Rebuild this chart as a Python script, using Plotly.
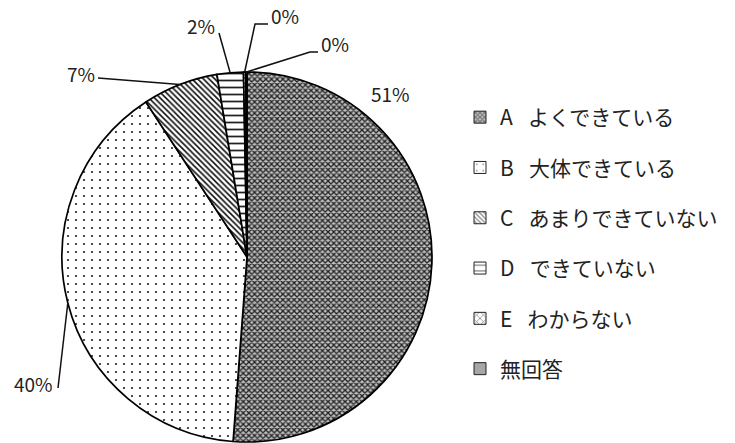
import math
import plotly.graph_objects as go

# ---- data ----
categories = ["A\u2002 よくできている", "B\u2002 大体できている", "C\u2002 あまりできていない",
              "D\u2002 できていない", "E\u2002 わからない", "無回答"]
values = [51.2, 39.6, 6.6, 2.3, 0.2, 0.1]

# ---- styles ----
patterns = [
    dict(shape="x", size=4, solidity=0.55, fgcolor="#222222", bgcolor="#c0c0c0"),
    dict(shape=".", size=8, solidity=0.06, fgcolor="#222222", bgcolor="white"),
    dict(shape="\\", size=4, solidity=0.4, fgcolor="#111111", bgcolor="white"),
    dict(shape="-", size=7, solidity=0.25, fgcolor="#222222", bgcolor="white"),
    dict(shape="x", size=6, solidity=0.3, fgcolor="#111111", bgcolor="white"),
    dict(shape="", fgcolor="#a6a6a6", bgcolor="#a6a6a6"),
]
slice_colors = ["#666666", "white", "white", "white", "#555555", "#a6a6a6"]

W, H = 735, 443
cx, cy, r = 247, 257, 185   # pie geometry (pixels, y from top)
FONT = "Noto Sans CJK JP"

fig = go.Figure()
fig.add_trace(go.Pie(
    labels=categories, values=values, sort=False, direction="clockwise",
    rotation=0, textinfo="none", showlegend=False, hoverinfo="label+percent",
    marker=dict(colors=slice_colors, line=dict(color="black", width=1.7),
                pattern=dict(shape=[p["shape"] for p in patterns],
                             size=[p.get("size", 8) for p in patterns],
                             solidity=[p.get("solidity", 0.3) for p in patterns],
                             fgcolor=[p["fgcolor"] for p in patterns],
                             bgcolor=[p["bgcolor"] for p in patterns])),
    domain=dict(x=[(cx - r) / W, (cx + r) / W], y=[(H - cy - r) / H, (H - cy + r) / H]),
))

# legend entries (dummy bars carry the pattern swatches)
for i, (name, p) in enumerate(zip(categories, patterns)):
    fig.add_trace(go.Bar(
        x=[None], y=[None], name=name, legendgroup=f"g{i}",
        marker=dict(color=slice_colors[i], line=dict(color="#222", width=1),
                    pattern=dict(shape=p["shape"], size=p.get("size", 8),
                                 solidity=p.get("solidity", 0.3),
                                 fgcolor=p["fgcolor"], bgcolor=p["bgcolor"])),
    ))

# ---- labels with leader lines ----
total = sum(values)
cum = 0
edge = []
for v in values:
    th = math.radians(360 * (cum + v / 2) / total)
    edge.append((cx + r * math.sin(th), cy - r * math.cos(th)))
    cum += v

def px(x):
    return x / W

def py(y):
    return (H - y) / H

# label centers and leader paths (pixel layout)
label_pos = [(390, 93), (33, 383), (81, 73), (201, 25), (285, 15), (335, 43)]
leaders = [
    None,
    [(58, 388)],
    [(98, 78)],
    [(219, 33)],
    [(255, 24), (268, 24)],
    [(310, 52), (318, 52)],
]
for i, v in enumerate(values):
    pct = round(100 * v / total)
    lx, ly = label_pos[i]
    fig.add_annotation(x=px(lx), y=py(ly), xref="paper", yref="paper",
                       xanchor="center", yanchor="middle",
                       text=f"{pct}%", showarrow=False,
                       font=dict(family=FONT, size=19, color="#222"))
    if leaders[i]:
        pts = [edge[i]] + leaders[i]
        path = "M " + " L ".join(f"{px(a):.5f},{py(b):.5f}" for a, b in pts)
        fig.add_shape(type="path", path=path, xref="paper", yref="paper",
                      line=dict(color="#111", width=1.5))

fig.update_layout(
    width=W, height=H, margin=dict(l=0, r=0, t=0, b=0),
    paper_bgcolor="white", plot_bgcolor="white",
    xaxis=dict(visible=False), yaxis=dict(visible=False),
    legend=dict(x=460 / W, y=py(97), xanchor="left", yanchor="top",
                font=dict(family=FONT, size=21, color="#222"),
                tracegroupgap=20, bgcolor="rgba(0,0,0,0)"),
)

fig.write_html("out.html", config={"displayModeBar": False},
               post_script="document.body.style.margin='0';")
